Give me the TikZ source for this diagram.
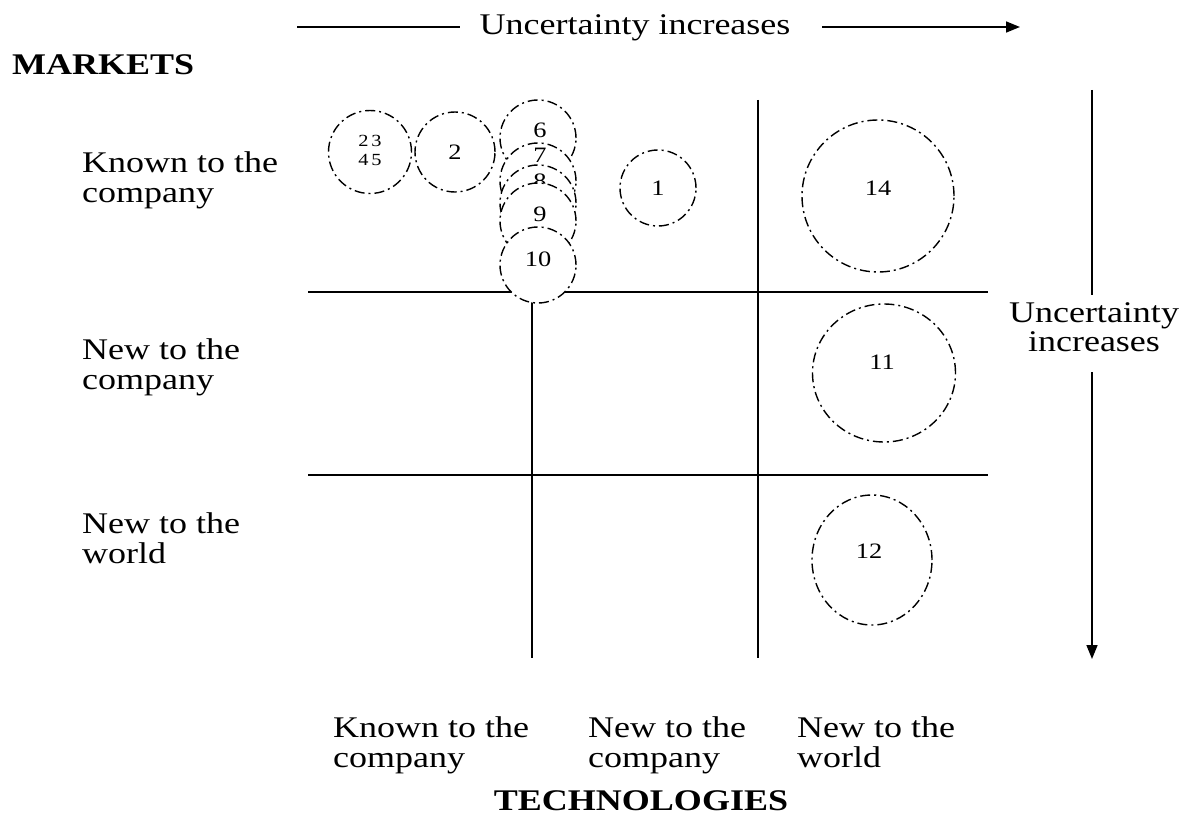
\documentclass[tikz,border=0pt]{standalone}
\usepackage{fontspec}
\setmainfont[FakeStretch=1.2]{Liberation Serif}
\usetikzlibrary{arrows.meta,shapes.geometric}
\begin{document}
\begin{tikzpicture}[x=1pt,y=-1pt,
  lab/.style={inner sep=0pt, align=left, anchor=north west, font=\fontsize{30}{30}\selectfont},
  headtxt/.style={inner sep=0pt, font=\fontsize{30}{30}\selectfont\bfseries},
  gridline/.style={line width=1.8pt},
  ring/.style={draw, line width=1.4pt, dash pattern=on 10pt off 4pt on 2pt off 4pt, inner sep=0pt},
  num/.style={inner sep=0pt, font=\fontsize{22}{22}\selectfont},
  smallnum/.style={inner sep=0pt, font=\fontsize{17}{19}\selectfont, align=center},
  arr/.style={line width=1.6pt, -{Triangle[length=14pt,width=11pt]}}
]
\useasboundingbox (0,0) rectangle (1187,816);

% headings
\node[headtxt, anchor=base west] (mk) at (12,75) {MARKETS};
\node[headtxt, anchor=base] (tech) at (641,810) {TECHNOLOGIES};

% top arrow
\node[inner sep=0pt, anchor=base, font=\fontsize{30}{30}\selectfont] (tu) at (635,35) {Uncertainty increases};
\coordinate (ta) at (297,27);
\coordinate (tb) at (460,27);
\coordinate (tc) at (822,27);
\coordinate (td) at (1020,27);
\draw[line width=1.6pt] (ta) -- (tb);
\draw[arr] (tc) -- (td);

% right arrow
\node[inner sep=0pt, align=center, anchor=north, font=\fontsize{30}{29}\selectfont] (ru) at (1094,302) {Uncertainty\\increases};
\coordinate (ra) at (1092,90);
\coordinate (rb) at (1092,295);
\coordinate (rc) at (1092,372);
\coordinate (rd) at (1092,659);
\draw[line width=1.6pt] (ra) -- (rb);
\draw[arr] (rc) -- (rd);

% row labels
\node[lab] (m1) at (82,151) {Known to the\\company};
\node[lab] (m2) at (82,338) {New to the\\company};
\node[lab] (m3) at (82,512) {New to the\\world};

% column labels
\node[lab] (t1) at (333,716) {Known to the\\company};
\node[lab] (t2) at (588,716) {New to the\\company};
\node[lab] (t3) at (797,716) {New to the\\world};

% grid
\coordinate (h1a) at (308,292); \coordinate (h1b) at (988,292);
\coordinate (h2a) at (308,475); \coordinate (h2b) at (988,475);
\coordinate (v1a) at (532,292); \coordinate (v1b) at (532,658);
\coordinate (v2a) at (758,100); \coordinate (v2b) at (758,658);
\draw[gridline] (h1a) -- (h1b);
\draw[gridline] (h2a) -- (h2b);
\draw[gridline] (v1a) -- (v1b);
\draw[gridline] (v2a) -- (v2b);

% circles
\node[ring, circle, minimum size=83pt] (c2345) at (370,152) {};
\node[smallnum] (n2345) at (370,150) {2\,3\\4\,5};
\node[ring, circle, minimum size=80pt] (c2) at (455,152) {};
\node[num] (n2) at (c2) {2};

\node[ring, circle, fill=white, minimum size=76pt] (c6) at (538,138) {};
\node[num] (n6) at (540,130) {6};
\node[ring, circle, fill=white, minimum size=76pt] (c7) at (538,181) {};
\node[num] (n7) at (540,155) {7};
\node[ring, circle, fill=white, minimum size=76pt] (c8) at (538,203) {};
\node[num] (n8) at (540,181) {8};
\node[ring, circle, fill=white, minimum size=76pt] (c9) at (538,221) {};
\node[num] (n9) at (540,214) {9};
\node[ring, circle, fill=white, minimum size=76pt] (c10) at (538,265) {};
\node[num] (n10) at (538,259) {10};

\node[ring, circle, minimum size=76pt, font=\fontsize{22}{22}\selectfont] (c1) at (658,188) {1};
\node[ring, circle, minimum size=152pt] (c14) at (878,196) {};
\node[num] (n14) at (878,188) {14};
\node[ring, ellipse, minimum width=143pt, minimum height=138pt] (c11) at (884,373) {};
\node[num] (n11) at (882,362) {11};
\node[ring, ellipse, minimum width=120pt, minimum height=130pt] (c12) at (872,560) {};
\node[num] (n12) at (869,551) {12};
\end{tikzpicture}
\end{document}
